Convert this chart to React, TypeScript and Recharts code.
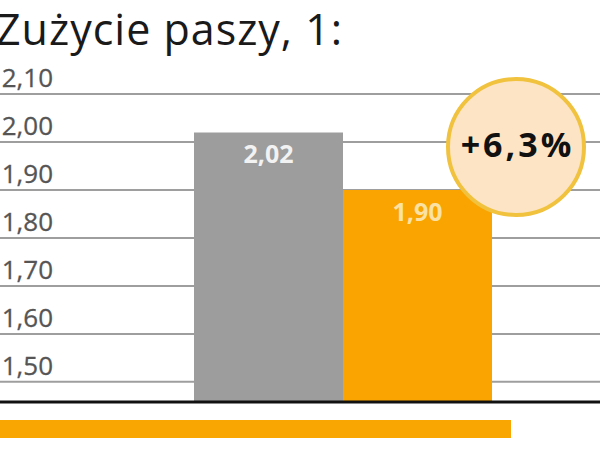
import { Bar, BarChart, CartesianGrid, LabelList, XAxis, YAxis } from "recharts"

const title = "Zużycie paszy, 1:"
const categories = ["Zużycie paszy"]
const beforeValues = [2.02]
const afterValues = [1.9]
const yTicks = [1.5, 1.6, 1.7, 1.8, 1.9, 2.0, 2.1]

const data = categories.map((name, i) => ({
    name,
    before: beforeValues[i],
    after: afterValues[i],
}))

const fmt = (v: number, digits = 2) => v.toFixed(digits).replace(".", ",")
const change = ((beforeValues[0] - afterValues[0]) / afterValues[0]) * 100

const FONT = "'Open Sans', sans-serif"

const YTick = (props: any) => {
    const { y, payload } = props
    return (
        <text x={53} y={y - 7} textAnchor="end" fontSize={26} fontFamily={FONT} fill="#555" stroke="#555" strokeWidth={0.3}>
            {fmt(payload.value)}
        </text>
    )
}

const barLabel = (color: string) => (props: any) => {
    const { x, y, width, value } = props
    return (
        <text
            x={x + width / 2}
            y={y + 31}
            textAnchor="middle"
            fontSize={25}
            fontWeight="bold"
            fontFamily={FONT}
            fill={color}
        >
            {fmt(value)}
        </text>
    )
}

const App = () => {
    return (
        <div style={{ position: "absolute", left: 0, top: 0, width: 608, height: 456, background: "#fff", overflow: "hidden" }}>
            <div
                style={{
                    position: "absolute",
                    left: -4,
                    top: 7,
                    fontFamily: FONT,
                    fontSize: 43,
                    letterSpacing: 1,
                    lineHeight: 1,
                    color: "#1a1a1a",
                    whiteSpace: "nowrap",
                }}
            >
                {title}
            </div>
            <div style={{ position: "absolute", left: 0, top: 0 }}>
                <BarChart
                    width={608}
                    height={456}
                    data={data}
                    margin={{ top: 94, right: 8, left: 0, bottom: 40 }}
                    barCategoryGap={0}
                    barGap={0}
                >
                    <CartesianGrid vertical={false} stroke="#9e9e9e" strokeWidth={2} />
                    <XAxis
                        dataKey="name"
                        height={14}
                        tick={false}
                        tickLine={false}
                        axisLine={{ stroke: "#111", strokeWidth: 3 }}
                        padding={{ left: 194, right: 108 }}
                    />
                    <YAxis
                        mirror
                        width={60}
                        domain={[1.458, 2.1]}
                        ticks={yTicks}
                        interval={0}
                        allowDataOverflow
                        axisLine={false}
                        tickLine={false}
                        tick={<YTick />}
                    />
                    <Bar dataKey="before" fill="#9d9d9d" isAnimationActive={false}>
                        <LabelList dataKey="before" content={barLabel("#f2f2f2")} />
                    </Bar>
                    <Bar dataKey="after" fill="#f9a400" isAnimationActive={false}>
                        <LabelList dataKey="after" content={barLabel("#fbe2a4")} />
                    </Bar>
                </BarChart>
            </div>
            <div style={{ position: "absolute", left: 0, top: 420, width: 511, height: 18, background: "#f9a602" }} />
            <div
                style={{
                    position: "absolute",
                    left: 446,
                    top: 77,
                    width: 140,
                    height: 140,
                    boxSizing: "border-box",
                    borderRadius: "50%",
                    border: "4px solid #f0c23e",
                    background: "#fde4c4",
                    display: "flex",
                    alignItems: "center",
                    justifyContent: "center",
                    fontFamily: FONT,
                    fontWeight: "bold",
                    fontSize: 34,
                    letterSpacing: 3,
                    color: "#111",
                    paddingBottom: 6,
                    paddingLeft: 3,
                }}
            >
                +{fmt(change, 1)}%
            </div>
        </div>
    )
}

export default App
